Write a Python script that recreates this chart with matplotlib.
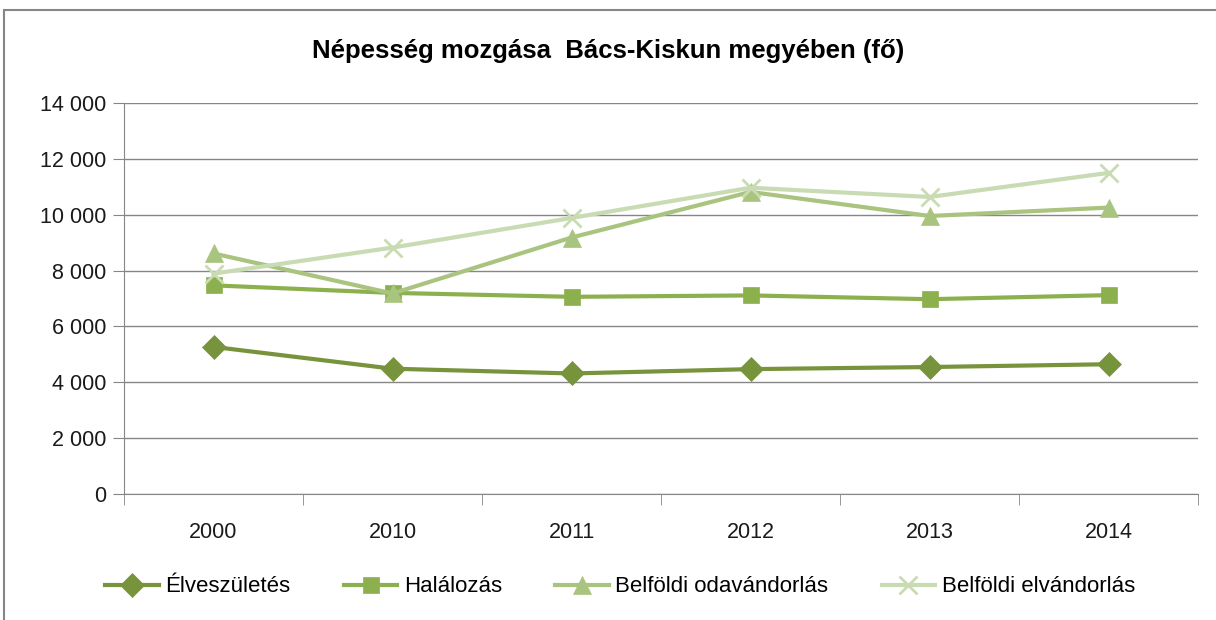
import numpy as np
import matplotlib
matplotlib.use("Agg")
import matplotlib.pyplot as plt
from matplotlib.ticker import FuncFormatter, FixedLocator
from matplotlib.patches import Rectangle

plt.rcParams['font.family'] = ['Liberation Sans', 'DejaVu Sans']

years = ["2000", "2010", "2011", "2012", "2013", "2014"]
elveszuletes = [5270, 4490, 4320, 4475, 4550, 4650]
halalozas = [7470, 7200, 7060, 7110, 6975, 7120]
odavandorlas = [8610, 7180, 9180, 10810, 9950, 10250]
elvandorlas = [7890, 8820, 9880, 10960, 10630, 11490]

series = [
    ("Élveszületés", elveszuletes, "#77933C", "D", 12),
    ("Halálozás", halalozas, "#8DB04E", "s", 11),
    ("Belföldi odavándorlás", odavandorlas, "#A9C47F", "^", 13),
    ("Belföldi elvándorlás", elvandorlas, "#C8DBB3", "x", 13),
]

fig = plt.figure(figsize=(12.16, 6.2), dpi=100)
ax = fig.add_axes([124/1216, 1-494.3/620, (1198-124)/1216, (494.3-102.7)/620])

# keret
fig.patches.append(Rectangle((4/1216, -0.1), 1.2, 1-10/620+0.1, transform=fig.transFigure,
                             fill=False, edgecolor="#868686", lw=1.5))

x = np.arange(len(years))
for name, vals, col, mk, ms in series:
    ax.plot(x, vals, color=col, lw=3, marker=mk, markersize=ms,
            markeredgewidth=2 if mk == "x" else 0.5, markeredgecolor=col,
            markerfacecolor=col, label=name)

ax.set_xlim(-0.5, len(years) - 0.5)
ax.set_ylim(0, 14000)
ax.set_yticks(np.arange(0, 14001, 2000))
ax.yaxis.set_major_formatter(FuncFormatter(lambda v, p: f"{int(v):,}".replace(",", " ")))
ax.set_xticks(x)
ax.set_xticklabels(years)
ax.xaxis.set_minor_locator(FixedLocator(np.arange(-0.5, len(years), 1)))
ax.tick_params(axis="x", which="major", length=0, pad=20, labelsize=15.5, labelcolor="#1a1a1a")
ax.tick_params(axis="x", which="minor", length=8, color="#868686", direction="out")
ax.tick_params(axis="y", length=8, color="#868686", labelsize=15.5, pad=5, labelcolor="#1a1a1a")

ax.grid(axis="y", color="#868686", lw=1)
ax.set_axisbelow(True)
for s in ["top", "right"]:
    ax.spines[s].set_visible(False)
ax.spines["left"].set_color("#868686")
ax.spines["bottom"].set_color("#868686")

fig.text(0.5, 1-51/620, "Népesség mozgása  Bács-Kiskun megyében (fő)", ha="center", va="center",
         fontsize=18.5, fontweight="bold")

ax.legend(loc="center", bbox_to_anchor=(0.51, 1-587/620), bbox_transform=fig.transFigure,
          ncol=4, frameon=False, fontsize=16, handlelength=2.4, columnspacing=2.4, handletextpad=0.3)

fig.savefig("out.png", dpi=100)
